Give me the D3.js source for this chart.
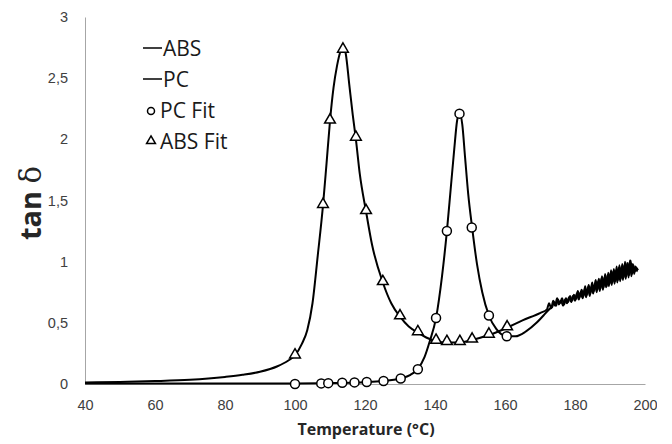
<!DOCTYPE html>
<html>
<head>
<meta charset="utf-8">
<script src="https://cdn.jsdelivr.net/npm/d3@7"></script>
<style>
  body { margin: 0; background: #fff; }
  svg { display: block; font-family: 'Open Sans', sans-serif; }
  .tick text { fill: #404040; font-size: 14.5px; }
</style>
</head>
<body>
<div id="chart"></div>
<script>
// measured tan delta, ABS
const absTemp = [40, 50, 60, 70, 80, 85, 90, 95, 98, 100, 102, 103.5, 105, 106.5, 108, 109, 110, 111, 112, 113, 113.7, 114.5, 115.5, 116.5, 117.4, 118.5, 120.3, 122, 125.1, 127.5, 130, 132.5, 135.1, 137.5, 140.3, 143.4, 147, 150.6, 155.4, 160.6, 165, 170, 172]
const absTan = [0.012, 0.017, 0.024, 0.035, 0.058, 0.075, 0.1, 0.145, 0.19, 0.235, 0.33, 0.44, 0.66, 1.05, 1.46, 1.8, 2.15, 2.42, 2.6, 2.72, 2.76, 2.7, 2.45, 2.2, 2.0, 1.72, 1.41, 1.14, 0.83, 0.66, 0.55, 0.47, 0.42, 0.38, 0.35, 0.34, 0.34, 0.36, 0.40, 0.46, 0.52, 0.58, 0.61]
// noisy high temperature tail of ABS
const absTailTemp = [172.6, 173.2, 173.8, 174.3, 174.9, 175.4, 176.0, 176.6, 177.2, 177.7, 178.3, 178.9, 179.4, 180.0, 180.5, 181.1, 181.6, 182.2, 182.7, 183.2, 183.7, 184.2, 184.7, 185.2, 185.7, 186.2, 186.6, 187.1, 187.5, 188.0, 188.4, 188.9, 189.3, 189.7, 190.1, 190.5, 190.9, 191.3, 191.7, 192.1, 192.5, 192.9, 193.3, 193.7, 194.1, 194.5, 194.9, 195.3, 195.7, 196.1, 196.5, 196.9, 197.3, 197.6, 197.9]
const absTailTan = [0.66, 0.62, 0.68, 0.64, 0.70, 0.65, 0.68, 0.64, 0.69, 0.66, 0.71, 0.67, 0.72, 0.68, 0.74, 0.69, 0.75, 0.70, 0.77, 0.71, 0.79, 0.72, 0.80, 0.74, 0.82, 0.75, 0.84, 0.76, 0.86, 0.77, 0.87, 0.79, 0.89, 0.80, 0.90, 0.81, 0.92, 0.82, 0.93, 0.83, 0.95, 0.84, 0.96, 0.85, 0.97, 0.86, 0.99, 0.87, 1.01, 0.88, 0.98, 0.90, 0.96, 0.93, 0.92]

// measured tan delta, PC
const pcTemp = [40, 60, 80, 100, 110, 120, 125, 130, 133, 135, 137, 138.5, 140.3, 142, 143.4, 144.5, 145.5, 146.3, 147, 147.8, 148.6, 149.5, 150.6, 152, 153.5, 155.4, 157.5, 160.5, 163, 166, 169, 171, 173]
const pcTan = [0.004, 0.004, 0.005, 0.005, 0.008, 0.015, 0.024, 0.045, 0.075, 0.12, 0.22, 0.35, 0.54, 0.88, 1.25, 1.6, 1.92, 2.15, 2.22, 2.12, 1.85, 1.55, 1.28, 0.98, 0.75, 0.56, 0.45, 0.39, 0.39, 0.43, 0.5, 0.56, 0.62]
// noisy high temperature tail of PC
const pcTailTemp = [173.5, 174.0, 174.6, 175.1, 175.7, 176.3, 176.9, 177.4, 178.0, 178.6, 179.1, 179.7, 180.2, 180.8, 181.3, 181.9, 182.4, 182.9, 183.4, 183.9, 184.4, 184.9, 185.4, 185.9, 186.4, 186.8, 187.3, 187.7, 188.2, 188.6, 189.1, 189.5, 189.9, 190.3, 190.7, 191.1, 191.5, 191.9, 192.3, 192.7, 193.1, 193.5, 193.9, 194.3, 194.7, 195.1, 195.5, 195.9, 196.3, 196.7, 197.1, 197.5, 198.0]
const pcTailTan = [0.63, 0.67, 0.64, 0.69, 0.66, 0.70, 0.65, 0.70, 0.67, 0.72, 0.68, 0.73, 0.69, 0.76, 0.71, 0.77, 0.72, 0.80, 0.73, 0.81, 0.74, 0.83, 0.76, 0.85, 0.77, 0.86, 0.78, 0.88, 0.79, 0.90, 0.80, 0.91, 0.82, 0.93, 0.83, 0.94, 0.84, 0.96, 0.85, 0.97, 0.86, 0.98, 0.87, 1.0, 0.88, 0.99, 0.89, 1.01, 0.90, 0.97, 0.92, 0.95, 0.93]

// fit points
const pcFitTemp = [100, 107.5, 109.5, 113.5, 117, 120.5, 125.3, 130.2, 135.1, 140.3, 143.4, 147, 150.5, 155.4, 160.5]
const pcFitTan = [0.0, 0.005, 0.007, 0.01, 0.013, 0.017, 0.025, 0.045, 0.12, 0.54, 1.25, 2.21, 1.28, 0.56, 0.39]
const absFitTemp = [100, 108, 110, 113.7, 117.4, 120.3, 125.1, 130, 135.1, 140.3, 143.4, 147.1, 150.6, 155.4, 160.6]
const absFitTan = [0.23, 1.46, 2.15, 2.73, 2.01, 1.41, 0.83, 0.55, 0.42, 0.35, 0.34, 0.34, 0.36, 0.40, 0.46]

const xTicks = [40, 60, 80, 100, 120, 140, 160, 180, 200]
const yTicks = [0, 0.5, 1, 1.5, 2, 2.5, 3]
const legendNames = ['ABS', 'PC', 'PC Fit', 'ABS Fit']

const width = 672
const height = 444

const xScale = d3.scaleLinear().domain([40, 200]).range([85, 645])
const yScale = d3.scaleLinear().domain([0, 3]).range([384, 17])

const zip = (xs, ys) => xs.map((x, i) => [x, ys[i]])
const absLine = zip(absTemp, absTan).concat(zip(absTailTemp, absTailTan))
const pcLine = zip(pcTemp, pcTan).concat(zip(pcTailTemp, pcTailTan))
const pcFit = zip(pcFitTemp, pcFitTan)
const absFit = zip(absFitTemp, absFitTan)

const svg = d3.select('#chart')
    .append('svg')
    .attr('width', width)
    .attr('height', height)

// the picture is cut just right of the last tick label
svg.append('defs').append('clipPath')
    .attr('id', 'cut')
    .append('rect')
    .attr('x', 0).attr('y', 0)
    .attr('width', 657).attr('height', height)

// Axes
const comma = d => String(d).replace('.', ',')
const xAxis = svg.append('g')
    .attr('transform', 'translate(0,' + yScale(0) + ')')
    .attr('clip-path', 'url(#cut)')
    .call(d3.axisBottom(xScale).tickValues(xTicks).tickSize(0).tickPadding(16).tickFormat(comma))
xAxis.select('.domain').attr('stroke', '#a6a6a6')

const yAxis = svg.append('g')
    .attr('transform', 'translate(' + xScale(40) + ',0)')
    .call(d3.axisLeft(yScale).tickValues(yTicks).tickSize(0).tickPadding(17).tickFormat(comma))
yAxis.select('.domain').attr('stroke', '#a6a6a6')

// Axis titles
svg.append('text')
    .attr('x', 366)
    .attr('y', 435)
    .attr('text-anchor', 'middle')
    .attr('font-weight', 'bold')
    .attr('font-size', '16px')
    .attr('fill', '#262626')
    .text('Temperature (°C)')

const yTitle = svg.append('text')
    .attr('transform', 'translate(41,203) rotate(-90)')
    .attr('text-anchor', 'middle')
    .attr('fill', '#262626')
    .attr('font-size', '29px')
yTitle.append('tspan').attr('font-weight', 'bold').text('tan ')
yTitle.append('tspan').attr('font-family', "'DejaVu Serif', serif").text('δ')

// Curves
const line = d3.line()
    .x(d => xScale(d[0]))
    .y(d => yScale(d[1]))
    .curve(d3.curveMonotoneX)

;[pcLine, absLine].forEach(data => {
    svg.append('path')
        .datum(data)
        .attr('d', line)
        .attr('fill', 'none')
        .attr('stroke', '#000')
        .attr('stroke-width', 2)
})

// Fit markers
const tri = d3.symbol().type(d3.symbolTriangle).size(50)

svg.selectAll('.abs-fit')
    .data(absFit)
    .enter()
    .append('path')
    .attr('class', 'abs-fit')
    .attr('d', tri)
    .attr('transform', d => 'translate(' + xScale(d[0]) + ',' + (yScale(d[1]) - 1) + ')')
    .attr('fill', '#fff')
    .attr('stroke', '#000')
    .attr('stroke-width', 1.5)

svg.selectAll('.pc-fit')
    .data(pcFit)
    .enter()
    .append('circle')
    .attr('class', 'pc-fit')
    .attr('cx', d => xScale(d[0]))
    .attr('cy', d => yScale(d[1]))
    .attr('r', 4.5)
    .attr('fill', '#fff')
    .attr('stroke', '#000')
    .attr('stroke-width', 1.5)

// Legend
const legend = svg.append('g')
    .attr('font-size', '21px')
    .attr('fill', '#1a1a1a')

legendNames.forEach((name, i) => {
    const y = 48 + i * 31
    if (i < 2) {
        legend.append('line')
            .attr('x1', 143).attr('x2', 162)
            .attr('y1', y).attr('y2', y)
            .attr('stroke', '#000').attr('stroke-width', 1.5)
    } else if (i === 2) {
        legend.append('circle')
            .attr('cx', 151).attr('cy', y + 1).attr('r', 3.5)
            .attr('fill', '#fff').attr('stroke', '#000').attr('stroke-width', 1.5)
    } else {
        legend.append('path')
            .attr('d', d3.symbol().type(d3.symbolTriangle).size(34))
            .attr('transform', 'translate(151,' + y + ')')
            .attr('fill', '#fff').attr('stroke', '#000').attr('stroke-width', 1.5)
    }
    legend.append('text')
        .attr('x', i < 2 ? 163 : 160)
        .attr('y', y + 7.5)
        .text(name)
})
</script>
</body>
</html>
